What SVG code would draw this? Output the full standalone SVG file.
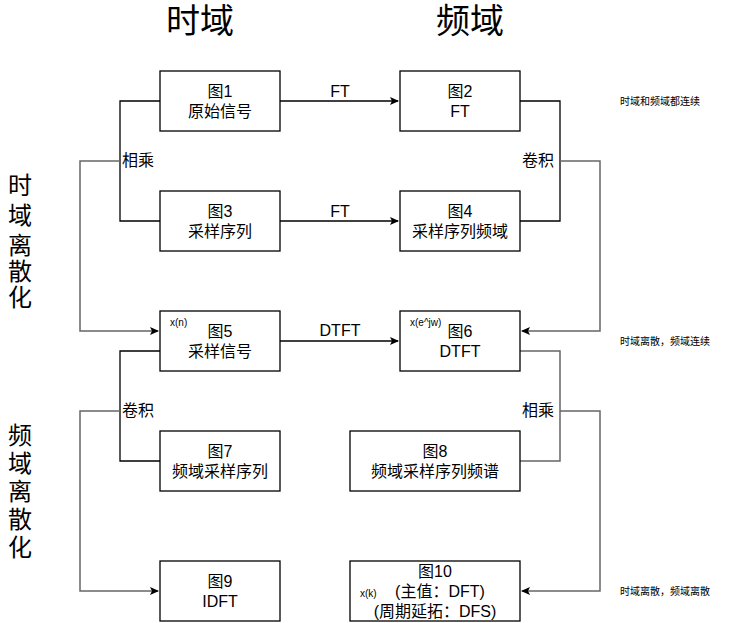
<svg xmlns="http://www.w3.org/2000/svg" width="741" height="623" viewBox="0 0 741 623">
<style>
text{font-family:"Liberation Sans","Noto Sans CJK SC",sans-serif;fill:#000}
.b rect{fill:#fff;stroke:#000;stroke-width:1.3}
.t{font-size:16px;text-anchor:middle}
.s{font-size:10px}
.l{fill:none;stroke:#000;stroke-width:1.3}
.lg{fill:none;stroke:#666;stroke-width:1.5}
.big{font-size:34px;text-anchor:middle}
.v{font-size:24px;text-anchor:middle}
.lab{font-size:16px}
</style>
<defs><marker id="a" markerWidth="10" markerHeight="10" refX="8" refY="5" orient="auto" markerUnits="userSpaceOnUse"><path d="M0,1 L9,5 L0,9 L2,5 Z" fill="#000"/></marker></defs>
<text class="big" x="200" y="33">时域</text>
<text class="big" x="470" y="33">频域</text>
<g><text class="v" x="20" y="194">时</text><text class="v" x="20" y="224">域</text><text class="v" x="20" y="254">离</text><text class="v" x="20" y="280">散</text><text class="v" x="20" y="306">化</text></g>
<g><text class="v" x="20" y="444">频</text><text class="v" x="20" y="472">域</text><text class="v" x="20" y="500">离</text><text class="v" x="20" y="528">散</text><text class="v" x="20" y="556">化</text></g>
<text class="s" x="620" y="105">时域和频域都连续</text>
<text class="s" x="620" y="345">时域离散，频域连续</text>
<text class="s" x="620" y="595">时域离散，频域离散</text>
<g id="connectors">
<path class="l" d="M160,101H120V221H160"/>
<path class="lg" d="M120,161H80V331H158" marker-end="url(#a)"/>
<path class="l" d="M160,351H120V461H160"/>
<path class="lg" d="M120,411H80V591H158" marker-end="url(#a)"/>
<path class="l" d="M520,101H560V221H520"/>
<path class="lg" d="M560,161H600V331H522" marker-end="url(#a)"/>
<path class="lg" d="M520,351H560V461H520"/>
<path class="lg" d="M560,411H600V591H522" marker-end="url(#a)"/>
<path class="l" d="M280,101H398" marker-end="url(#a)"/>
<path class="l" d="M280,221H398" marker-end="url(#a)"/>
<path class="l" d="M280,341H398" marker-end="url(#a)"/>
<rect x="121" y="151" width="38" height="20" fill="#fff"/><text class="lab" x="122" y="166">相乘</text>
<rect x="121" y="401" width="38" height="20" fill="#fff"/><text class="lab" x="122" y="416">卷积</text>
<rect x="521" y="151" width="38" height="20" fill="#fff"/><text class="lab" x="522" y="166">卷积</text>
<rect x="521" y="401" width="38" height="20" fill="#fff"/><text class="lab" x="522" y="416">相乘</text>
<text class="t" x="340" y="97">FT</text>
<text class="t" x="340" y="217">FT</text>
<text class="t" x="340" y="336">DTFT</text>
</g>
<g id="n1" class="b"><rect x="160" y="71" width="120" height="60"/><text class="t" x="220" y="97">图1</text><text class="t" x="220" y="117">原始信号</text></g>
<g id="n2" class="b"><rect x="400" y="71" width="120" height="60"/><text class="t" x="460" y="97">图2</text><text class="t" x="460" y="117">FT</text></g>
<g id="n3" class="b"><rect x="160" y="191" width="120" height="60"/><text class="t" x="220" y="217">图3</text><text class="t" x="220" y="237">采样序列</text></g>
<g id="n4" class="b"><rect x="400" y="191" width="120" height="60"/><text class="t" x="460" y="217">图4</text><text class="t" x="460" y="237">采样序列频域</text></g>
<g id="n5" class="b"><rect x="160" y="311" width="120" height="60"/><text class="s" x="170" y="326">x(n)</text><text class="t" x="220" y="337">图5</text><text class="t" x="220" y="357">采样信号</text></g>
<g id="n6" class="b"><rect x="400" y="311" width="120" height="60"/><text class="s" x="410" y="326">x(e^jw)</text><text class="t" x="460" y="337">图6</text><text class="t" x="460" y="357">DTFT</text></g>
<g id="n7" class="b"><rect x="160" y="431" width="120" height="60"/><text class="t" x="220" y="457">图7</text><text class="t" x="220" y="477">频域采样序列</text></g>
<g id="n8" class="b"><rect x="350" y="431" width="170" height="60"/><text class="t" x="435" y="457">图8</text><text class="t" x="435" y="477">频域采样序列频谱</text></g>
<g id="n9" class="b"><rect x="160" y="561" width="120" height="60"/><text class="t" x="220" y="587">图9</text><text class="t" x="220" y="607">IDFT</text></g>
<g id="n10" class="b"><rect x="350" y="561" width="170" height="60"/><text class="t" x="435" y="577">图10</text><text class="s" x="360" y="597">x(k)</text><text class="t" x="440" y="597">(主值：DFT)</text><text class="t" x="435" y="617">(周期延拓：DFS)</text></g>
</svg>
